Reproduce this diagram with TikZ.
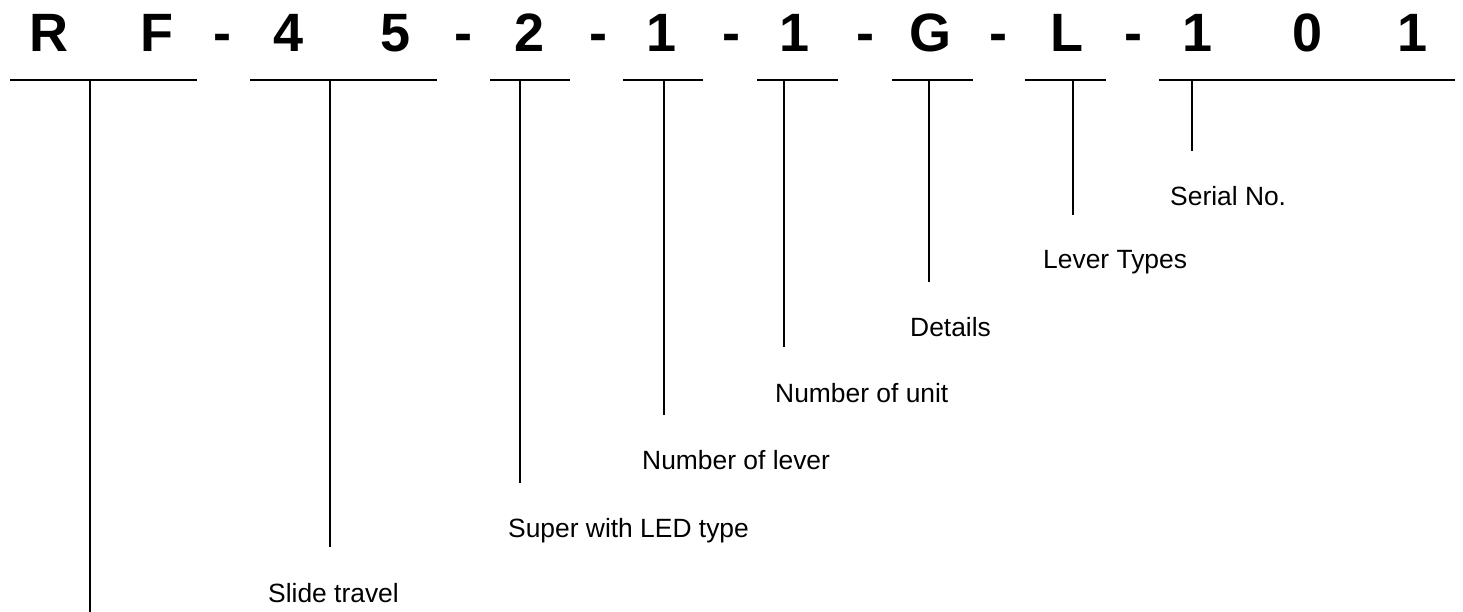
\documentclass[tikz,border=0pt]{standalone}
\usepackage{fontspec}
\setmainfont{Liberation Sans}
\begin{document}
\begin{tikzpicture}[x=1pt,y=-1pt,
  code/.style={anchor=base,inner sep=0pt,font=\fontsize{54}{60}\selectfont\bfseries},
  lab/.style={anchor=base west,inner sep=0pt,font=\fontsize{26.4}{30}\selectfont},
  rule/.style={line width=2pt},
  lead/.style={line width=2pt}]
\useasboundingbox (0,0) rectangle (1463,612);
% code characters
\node[code] (cR) at (49,52) {R};
\node[code] (cF) at (157,52) {F};
\node[code] (d1) at (222,52) {-};
\node[code] (c4) at (289,52) {4};
\node[code] (c5) at (396,52) {5};
\node[code] (d2) at (463,52) {-};
\node[code] (c2) at (530,52) {2};
\node[code] (d3) at (598,52) {-};
\node[code] (c1a) at (662,52) {1};
\node[code] (d4) at (731,52) {-};
\node[code] (c1b) at (795,52) {1};
\node[code] (d5) at (865,52) {-};
\node[code] (cG) at (930,52) {G};
\node[code] (d6) at (998,52) {-};
\node[code] (cL) at (1067,52) {L};
\node[code] (d7) at (1133,52) {-};
\node[code] (c1c) at (1197,52) {1};
\node[code] (c0) at (1307,52) {0};
\node[code] (c1d) at (1412,52) {1};
% underline segments
\coordinate (s1a) at (10,80);   \coordinate (s1b) at (197,80);
\coordinate (s2a) at (250,80);  \coordinate (s2b) at (437,80);
\coordinate (s3a) at (490,80);  \coordinate (s3b) at (570,80);
\coordinate (s4a) at (623,80);  \coordinate (s4b) at (703,80);
\coordinate (s5a) at (757,80);  \coordinate (s5b) at (838,80);
\coordinate (s6a) at (892,80);  \coordinate (s6b) at (973,80);
\coordinate (s7a) at (1025,80); \coordinate (s7b) at (1106,80);
\coordinate (s8a) at (1159,80); \coordinate (s8b) at (1455,80);
\foreach \s in {1,...,8}{\draw[rule] (s\s a) -- (s\s b);}
% tap points
\coordinate (t1) at (90,80);   \coordinate (e1) at (90,612);
\coordinate (t2) at (330,80);  \coordinate (e2) at (330,547);
\coordinate (t3) at (520,80);  \coordinate (e3) at (520,483);
\coordinate (t4) at (664,80);  \coordinate (e4) at (664,415);
\coordinate (t5) at (784,80);  \coordinate (e5) at (784,347);
\coordinate (t6) at (929,80);  \coordinate (e6) at (929,282);
\coordinate (t7) at (1073,80); \coordinate (e7) at (1073,215);
\coordinate (t8) at (1192,80); \coordinate (e8) at (1192,151);
\foreach \s in {1,...,8}{\draw[lead] (t\s) -- (e\s);}
% labels
\node[lab] (l2) at (268,602) {Slide travel};
\node[lab] (l3) at (508,537) {Super with LED type};
\node[lab] (l4) at (642,469) {Number of lever};
\node[lab] (l5) at (775,402) {Number of unit};
\node[lab] (l6) at (910,336) {Details};
\node[lab] (l7) at (1043,269) {Lever Types};
\node[lab] (l8) at (1170,206) {Serial No.};
\end{tikzpicture}
\end{document}
